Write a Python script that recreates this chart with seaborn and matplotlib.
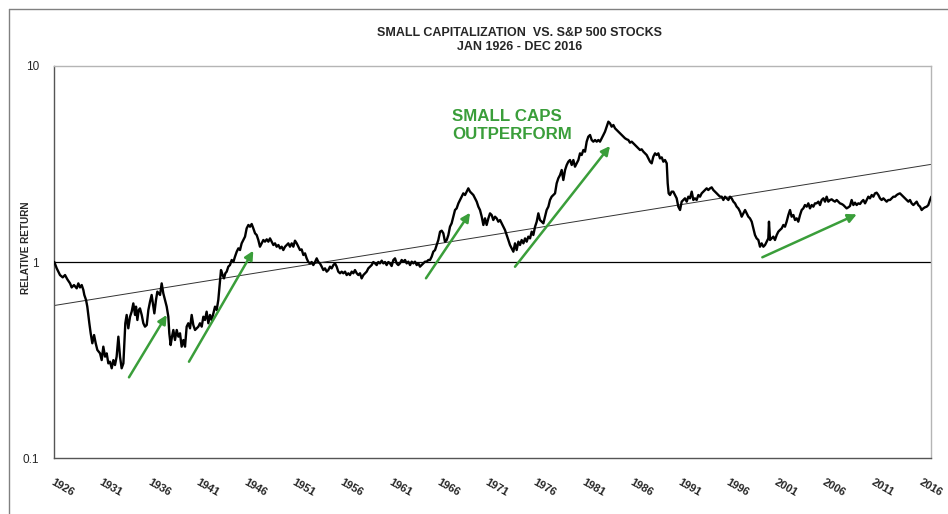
import numpy as np
import pandas as pd
import matplotlib
matplotlib.use("Agg")
import matplotlib.pyplot as plt
from matplotlib.lines import Line2D
from matplotlib.ticker import LogLocator, NullFormatter
import seaborn as sns

# small caps relative to S&P 500 (growth of $1)
years_1926_1944 = [1926.00, 1926.25, 1926.59, 1926.87, 1927.11, 1927.35, 1927.63, 1927.80, 1928.04, 1928.32,
                   1928.49, 1928.66, 1928.84, 1929.01, 1929.11, 1929.29, 1929.42, 1929.63, 1929.77, 1929.94,
                   1930.12, 1930.29, 1930.46, 1930.74, 1930.91, 1931.08, 1931.26, 1931.43, 1931.60, 1931.77,
                   1931.95, 1932.12, 1932.29, 1932.46, 1932.64, 1932.81, 1932.98, 1933.16, 1933.26, 1933.36,
                   1933.50, 1933.67, 1933.85, 1934.02, 1934.19, 1934.37, 1934.47, 1934.61, 1934.75, 1934.88,
                   1935.06, 1935.23, 1935.40, 1935.58, 1935.75, 1935.92, 1936.09, 1936.27, 1936.37, 1936.54,
                   1936.68, 1936.96, 1937.13, 1937.30, 1937.48, 1937.65, 1937.82, 1937.92, 1938.06, 1938.20,
                   1938.34, 1938.51, 1938.69, 1938.86, 1939.03, 1939.20, 1939.38, 1939.55, 1939.72, 1939.89,
                   1940.07, 1940.24, 1940.41, 1940.59, 1940.76, 1940.93, 1941.10, 1941.28, 1941.45, 1941.62,
                   1941.79, 1941.97, 1942.14, 1942.31, 1942.49, 1942.66, 1942.83, 1943.00, 1943.18, 1943.28,
                   1943.45, 1943.59, 1943.73, 1943.87, 1944.04, 1944.21]
ratio_1926_1944 = [1.000, 0.928, 0.858, 0.835, 0.858, 0.816, 0.778, 0.742, 0.763, 0.734,
                   0.778, 0.742, 0.763, 0.720, 0.679, 0.640, 0.592, 0.487, 0.433, 0.385,
                   0.424, 0.385, 0.356, 0.342, 0.316, 0.370, 0.329, 0.342, 0.304, 0.310,
                   0.287, 0.316, 0.298, 0.329, 0.416, 0.329, 0.287, 0.304, 0.385, 0.487,
                   0.537, 0.459, 0.526, 0.558, 0.615, 0.537, 0.592, 0.506, 0.569, 0.580,
                   0.537, 0.487, 0.468, 0.477, 0.569, 0.627, 0.679, 0.592, 0.547, 0.640,
                   0.706, 0.679, 0.778, 0.692, 0.640, 0.592, 0.526, 0.433, 0.377, 0.416,
                   0.450, 0.400, 0.450, 0.416, 0.433, 0.370, 0.400, 0.370, 0.468, 0.487,
                   0.459, 0.537, 0.477, 0.450, 0.459, 0.468, 0.487, 0.468, 0.526, 0.506,
                   0.558, 0.487, 0.537, 0.506, 0.547, 0.592, 0.569, 0.640, 0.809, 0.910,
                   0.858, 0.825, 0.876, 0.893, 0.947, 0.965]

years_1944_1962 = [1944.39, 1944.56, 1944.73, 1944.91, 1945.08, 1945.25, 1945.42, 1945.60, 1945.77, 1945.94,
                   1946.12, 1946.29, 1946.46, 1946.63, 1946.81, 1946.98, 1947.15, 1947.32, 1947.50, 1947.67,
                   1947.84, 1948.02, 1948.19, 1948.36, 1948.53, 1948.71, 1948.88, 1949.05, 1949.23, 1949.40,
                   1949.57, 1949.74, 1949.92, 1950.09, 1950.26, 1950.43, 1950.61, 1950.78, 1950.95, 1951.13,
                   1951.30, 1951.47, 1951.64, 1951.82, 1951.99, 1952.16, 1952.33, 1952.51, 1952.68, 1952.85,
                   1953.03, 1953.20, 1953.37, 1953.54, 1953.72, 1953.89, 1954.06, 1954.24, 1954.41, 1954.58,
                   1954.75, 1954.93, 1955.10, 1955.27, 1955.44, 1955.62, 1955.79, 1955.96, 1956.14, 1956.31,
                   1956.48, 1956.65, 1956.83, 1957.00, 1957.17, 1957.35, 1957.52, 1957.69, 1957.86, 1958.04,
                   1958.21, 1958.38, 1958.55, 1958.73, 1958.90, 1959.07, 1959.25, 1959.42, 1959.59, 1959.76,
                   1959.94, 1960.11, 1960.28, 1960.45, 1960.63, 1960.80, 1960.97, 1961.15, 1961.32, 1961.49,
                   1961.66, 1961.83]
ratio_1944_1962 = [1.024, 1.000, 1.065, 1.129, 1.174, 1.151, 1.245, 1.295, 1.347, 1.485,
                   1.545, 1.514, 1.563, 1.485, 1.401, 1.373, 1.295, 1.197, 1.245, 1.295,
                   1.270, 1.305, 1.270, 1.320, 1.270, 1.221, 1.245, 1.197, 1.221, 1.174,
                   1.197, 1.151, 1.197, 1.221, 1.245, 1.197, 1.245, 1.197, 1.285, 1.245,
                   1.197, 1.151, 1.160, 1.086, 1.107, 1.044, 1.000, 0.984, 1.000, 0.965,
                   1.000, 1.044, 1.000, 0.984, 0.947, 0.910, 0.928, 0.893, 0.910, 0.947,
                   0.928, 0.965, 0.984, 0.947, 0.893, 0.876, 0.893, 0.876, 0.893, 0.858,
                   0.876, 0.858, 0.893, 0.876, 0.910, 0.876, 0.858, 0.876, 0.825, 0.858,
                   0.876, 0.893, 0.928, 0.947, 0.965, 1.000, 0.984, 0.965, 1.000, 0.984,
                   1.016, 0.984, 1.000, 0.965, 1.000, 0.984, 0.954, 1.024, 1.044, 0.984,
                   0.965, 0.984]

years_1962_1979 = [1962.01, 1962.18, 1962.36, 1962.53, 1962.70, 1962.88, 1963.05, 1963.22, 1963.39, 1963.57,
                   1963.74, 1963.91, 1964.08, 1964.26, 1964.43, 1964.60, 1964.78, 1964.95, 1965.12, 1965.29,
                   1965.47, 1965.64, 1965.81, 1965.99, 1966.16, 1966.33, 1966.50, 1966.68, 1966.85, 1967.02,
                   1967.19, 1967.37, 1967.54, 1967.71, 1967.89, 1968.06, 1968.23, 1968.40, 1968.58, 1968.75,
                   1968.92, 1969.10, 1969.27, 1969.44, 1969.61, 1969.79, 1969.96, 1970.13, 1970.31, 1970.48,
                   1970.65, 1970.82, 1971.00, 1971.17, 1971.34, 1971.51, 1971.69, 1971.86, 1972.03, 1972.21,
                   1972.38, 1972.55, 1972.72, 1972.90, 1973.07, 1973.24, 1973.42, 1973.59, 1973.76, 1973.93,
                   1974.11, 1974.28, 1974.45, 1974.63, 1974.80, 1974.97, 1975.14, 1975.32, 1975.49, 1975.66,
                   1975.84, 1976.01, 1976.18, 1976.35, 1976.53, 1976.70, 1976.87, 1977.04, 1977.22, 1977.39,
                   1977.56, 1977.74, 1977.91, 1978.08, 1978.25, 1978.43, 1978.60, 1978.77, 1978.95, 1979.12,
                   1979.29, 1979.46]
ratio_1962_1979 = [1.024, 1.004, 1.024, 0.984, 1.004, 0.965, 1.004, 0.984, 1.004, 0.965,
                   0.984, 0.947, 0.965, 0.984, 1.004, 1.004, 1.024, 1.024, 1.065, 1.129,
                   1.151, 1.221, 1.295, 1.428, 1.445, 1.401, 1.270, 1.295, 1.373, 1.514,
                   1.575, 1.703, 1.842, 1.878, 1.992, 2.072, 2.154, 2.240, 2.197, 2.285,
                   2.376, 2.285, 2.240, 2.197, 2.113, 2.032, 1.916, 1.842, 1.703, 1.545,
                   1.670, 1.545, 1.670, 1.771, 1.737, 1.638, 1.703, 1.670, 1.606, 1.638,
                   1.575, 1.514, 1.457, 1.373, 1.295, 1.221, 1.174, 1.129, 1.245, 1.151,
                   1.270, 1.221, 1.295, 1.245, 1.320, 1.270, 1.347, 1.320, 1.428, 1.373,
                   1.514, 1.606, 1.771, 1.638, 1.606, 1.575, 1.703, 1.842, 1.916, 2.072,
                   2.154, 2.197, 2.240, 2.520, 2.673, 2.779, 2.947, 2.620, 2.947, 3.125,
                   3.250, 3.314]

years_1979_1995 = [1979.64, 1979.81, 1979.98, 1980.15, 1980.33, 1980.50, 1980.67, 1980.85, 1981.02, 1981.19,
                   1981.36, 1981.54, 1981.71, 1981.88, 1982.06, 1982.23, 1982.40, 1982.57, 1982.75, 1982.92,
                   1983.09, 1983.26, 1983.44, 1983.61, 1983.78, 1983.96, 1984.13, 1984.30, 1984.47, 1984.65,
                   1984.82, 1984.99, 1985.17, 1985.34, 1985.51, 1985.68, 1985.86, 1986.03, 1986.20, 1986.38,
                   1986.55, 1986.72, 1986.89, 1987.07, 1987.24, 1987.41, 1987.59, 1987.76, 1987.93, 1988.10,
                   1988.28, 1988.45, 1988.62, 1988.79, 1988.97, 1989.14, 1989.31, 1989.49, 1989.59, 1989.69,
                   1989.83, 1990.00, 1990.17, 1990.35, 1990.52, 1990.69, 1990.87, 1991.04, 1991.21, 1991.38,
                   1991.56, 1991.73, 1991.90, 1992.08, 1992.25, 1992.42, 1992.59, 1992.77, 1992.94, 1993.11,
                   1993.29, 1993.46, 1993.63, 1993.80, 1993.98, 1994.15, 1994.32, 1994.50, 1994.67, 1994.84,
                   1995.01]
ratio_1979_1995 = [3.125, 3.314, 3.064, 3.187, 3.314, 3.584, 3.515, 3.728, 3.655, 4.111,
                   4.360, 4.446, 4.193, 4.111, 4.193, 4.111, 4.193, 4.111, 4.276, 4.446,
                   4.624, 4.903, 5.200, 5.099, 4.903, 5.000, 4.808, 4.716, 4.624, 4.534,
                   4.446, 4.360, 4.276, 4.226, 4.193, 4.063, 4.111, 4.032, 3.954, 3.877,
                   3.802, 3.728, 3.758, 3.655, 3.584, 3.515, 3.380, 3.250, 3.187, 3.446,
                   3.584, 3.515, 3.584, 3.380, 3.420, 3.250, 3.314, 3.187, 2.520, 2.240,
                   2.197, 2.285, 2.285, 2.197, 2.113, 1.916, 1.842, 2.032, 2.072, 2.113,
                   2.032, 2.154, 2.113, 2.285, 2.072, 2.113, 2.072, 2.197, 2.154, 2.240,
                   2.285, 2.330, 2.376, 2.330, 2.376, 2.404, 2.330, 2.285, 2.240, 2.197,
                   2.154]

years_1995_2016 = [1995.19, 1995.36, 1995.53, 1995.70, 1995.88, 1996.05, 1996.22, 1996.40, 1996.57, 1996.74,
                   1996.91, 1997.09, 1997.26, 1997.43, 1997.61, 1997.78, 1997.95, 1998.12, 1998.30, 1998.47,
                   1998.64, 1998.81, 1998.99, 1999.16, 1999.33, 1999.51, 1999.68, 1999.85, 2000.02, 2000.09,
                   2000.20, 2000.37, 2000.54, 2000.71, 2000.89, 2001.06, 2001.23, 2001.41, 2001.58, 2001.75,
                   2001.92, 2002.10, 2002.27, 2002.44, 2002.62, 2002.79, 2002.96, 2003.13, 2003.31, 2003.48,
                   2003.65, 2003.82, 2004.00, 2004.17, 2004.34, 2004.52, 2004.69, 2004.86, 2005.03, 2005.21,
                   2005.38, 2005.55, 2005.73, 2005.90, 2006.07, 2006.24, 2006.42, 2006.59, 2006.76, 2006.93,
                   2007.11, 2007.28, 2007.45, 2007.63, 2007.80, 2007.97, 2008.14, 2008.32, 2008.49, 2008.66,
                   2008.84, 2009.01, 2009.18, 2009.35, 2009.53, 2009.70, 2009.87, 2010.05, 2010.22, 2010.39,
                   2010.56, 2010.74, 2010.91, 2011.08, 2011.25, 2011.43, 2011.60, 2011.77, 2011.95, 2012.12,
                   2012.29, 2012.46, 2012.64, 2012.81, 2012.98, 2013.16, 2013.33, 2013.50, 2013.67, 2013.85,
                   2014.02, 2014.19, 2014.37, 2014.54, 2014.71, 2014.88, 2015.06, 2015.23, 2015.40, 2015.57,
                   2015.75, 2015.92, 2016.09, 2016.26, 2016.44, 2016.61, 2016.78, 2016.92]
ratio_1995_2016 = [2.154, 2.072, 2.154, 2.113, 2.072, 2.154, 2.113, 2.032, 1.992, 1.916,
                   1.878, 1.806, 1.703, 1.771, 1.842, 1.771, 1.703, 1.670, 1.606, 1.485,
                   1.373, 1.320, 1.295, 1.197, 1.245, 1.197, 1.221, 1.270, 1.320, 1.606,
                   1.295, 1.320, 1.347, 1.295, 1.373, 1.428, 1.457, 1.485, 1.545, 1.514,
                   1.606, 1.737, 1.842, 1.703, 1.737, 1.638, 1.670, 1.606, 1.737, 1.842,
                   1.878, 1.953, 1.916, 1.992, 1.878, 1.953, 1.916, 1.992, 1.992, 2.032,
                   1.953, 2.072, 2.113, 2.032, 2.154, 2.032, 2.072, 2.088, 2.056, 2.032,
                   2.072, 2.032, 1.992, 1.977, 1.953, 1.916, 1.878, 1.901, 1.931, 2.072,
                   1.953, 2.008, 1.953, 1.992, 1.977, 2.032, 2.072, 1.992, 2.072, 2.154,
                   2.113, 2.197, 2.154, 2.240, 2.258, 2.197, 2.113, 2.072, 2.113, 2.072,
                   2.032, 2.072, 2.072, 2.113, 2.154, 2.154, 2.197, 2.223, 2.240, 2.197,
                   2.154, 2.113, 2.072, 2.032, 2.072, 1.992, 1.953, 1.992, 2.032, 1.953,
                   1.916, 1.842, 1.878, 1.901, 1.916, 1.953, 2.072, 2.154]

# long-run trend (log-linear) at both ends of the period
trend_years = [1926.0, 2016.92]
trend_values = [0.60, 3.15]

tick_years = list(range(1926, 2017, 5))
ytick_values = [0.1, 1, 10]
ytick_labels = ["0.1", "1", "10"]

# green "small caps outperform" arrows: (tail, head)
arrows = [((1933.74, 0.258), (1937.65, 0.537)),
          ((1939.96, 0.310), (1946.63, 1.142)),
          ((1964.53, 0.826), (1969.10, 1.784)),
          ((1973.76, 0.946), (1983.61, 3.907)),
          ((1999.40, 1.057), (2009.19, 1.751))]

df = pd.DataFrame({
    "year": years_1926_1944 + years_1944_1962 + years_1962_1979 + years_1979_1995 + years_1995_2016,
    "ratio": ratio_1926_1944 + ratio_1944_1962 + ratio_1962_1979 + ratio_1979_1995 + ratio_1995_2016,
})

sns.set_style("white")
plt.rcParams["font.family"] = ["Liberation Sans", "DejaVu Sans"]

green = "#3a9e3a"

fig = plt.figure(figsize=(9.48, 5.14), dpi=100)
ax = fig.add_axes([0.0573, 0.1089, 0.9251, 0.7627])

ax.axhline(1, color="black", lw=0.9, zorder=2)
sns.lineplot(x=trend_years, y=trend_values, color="#333333", linewidth=0.7, ax=ax, zorder=2)
sns.lineplot(data=df, x="year", y="ratio", color="black", linewidth=1.7, estimator=None, ax=ax, zorder=3)

ax.set_yscale("log")
ax.set_ylim(0.1, 10)
ax.set_xlim(1926, 2016.92)

for tail, head in arrows:
    ax.annotate("", xy=head, xytext=tail,
                arrowprops=dict(arrowstyle="-|>", color=green, lw=1.8,
                                mutation_scale=13, shrinkA=0, shrinkB=0), zorder=4)

ax.text(1967.23, 6.05, "SMALL CAPS\nOUTPERFORM", color=green, fontsize=12.2,
        fontweight="bold", ha="left", va="top", linespacing=1.25)

# axes styling
ax.set_xticks(tick_years)
ax.set_xticklabels([str(y) for y in tick_years], rotation=-30, ha="left",
                   rotation_mode="anchor", fontweight="bold", fontsize=8)
ax.tick_params(axis="x", direction="inout", length=9, width=0.8, pad=9, color="#444444")

ax.set_yticks(ytick_values)
ax.set_yticklabels(ytick_labels, fontsize=8.5)
ax.yaxis.set_minor_locator(LogLocator(base=10, subs=np.arange(2, 10)))
ax.yaxis.set_minor_formatter(NullFormatter())
ax.tick_params(axis="y", which="major", direction="inout", length=8, width=0.8, pad=7, color="#444444")
ax.tick_params(axis="y", which="minor", direction="inout", length=5, width=0.8, color="#444444")

ax.set_xlabel("")
ax.set_ylabel("RELATIVE RETURN", fontweight="bold", fontsize=7.2)
ax.yaxis.set_label_coords(-0.027, 0.536)

for side in ["left", "bottom"]:
    ax.spines[side].set_color("#555555")
    ax.spines[side].set_linewidth(1.0)
for side in ["top", "right"]:
    ax.spines[side].set_color("#b5b5b5")
    ax.spines[side].set_linewidth(1.0)

fig.text(0.548, 0.936, "SMALL CAPITALIZATION  VS. S&P 500 STOCKS", ha="center", va="center",
         fontweight="bold", fontsize=9)
fig.text(0.548, 0.9085, "JAN 1926 - DEC 2016", ha="center", va="center",
         fontweight="bold", fontsize=9)

# outer frame of the original exhibit
bx = 9 / 948
by = 1 - 9 / 514
fig.add_artist(Line2D([bx, bx], [0, by], transform=fig.transFigure, color="#808080", lw=1))
fig.add_artist(Line2D([bx, 1], [by, by], transform=fig.transFigure, color="#808080", lw=1))

fig.savefig("out.png", dpi=100)
